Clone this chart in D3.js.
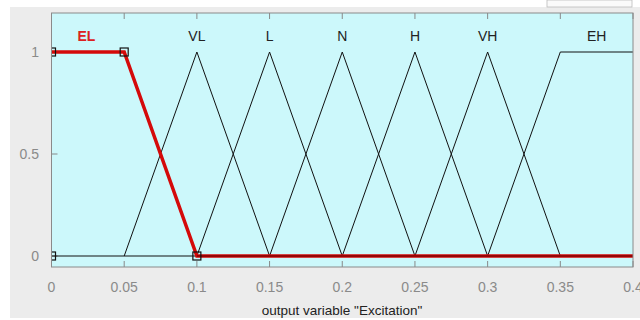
<!DOCTYPE html>
<html>
<head>
<meta charset="utf-8">
<script src="https://cdn.jsdelivr.net/npm/d3@7"></script>
<style>
 body { margin: 0; background: #fff; }
 svg { display: block; font-family: "Liberation Sans", Arial, sans-serif; }
</style>
</head>
<body>
<svg id="chart" width="640" height="320"></svg>
<script>
// membership functions of output variable "Excitation"
var mfNames = ["EL", "VL", "L", "N", "H", "VH", "EH"];
var mfPoints = {
  EL: [[0, 0], [0, 1], [0.05, 1], [0.1, 0], [0.4, 0]],
  VL: [[0.05, 0], [0.1, 1], [0.15, 0]],
  L:  [[0.1, 0], [0.15, 1], [0.2, 0]],
  N:  [[0.15, 0], [0.2, 1], [0.25, 0]],
  H:  [[0.2, 0], [0.25, 1], [0.3, 0]],
  VH: [[0.25, 0], [0.3, 1], [0.35, 0]],
  EH: [[0.3, 0], [0.35, 1], [0.4, 1]]
};
var labelX = [0.024, 0.1, 0.15, 0.2, 0.25, 0.3, 0.375];
var elHandles = [[0, 0], [0, 1], [0.05, 1], [0.1, 0]];
var xTicks = [0, 0.05, 0.1, 0.15, 0.2, 0.25, 0.3, 0.35, 0.4];
var yTicks = [0, 0.5, 1];

var svg = d3.select("#chart");

// window background
svg.append("rect").attr("x", 10).attr("y", 7).attr("width", 630).attr("height", 311)
  .attr("fill", "#ececec");
svg.append("rect").attr("x", 547).attr("y", 0).attr("width", 85).attr("height", 7)
  .attr("fill", "#fafafa").attr("stroke", "#bbb").attr("stroke-width", 0.8);

var x = d3.scaleLinear().domain([0, 0.4]).range([51.5, 633]);
var y = d3.scaleLinear().domain([0, 1]).range([256, 52]);
var boxTop = 13, boxBottom = 267;

svg.append("defs").append("clipPath").attr("id", "box")
  .append("rect").attr("x", x(0)).attr("y", boxTop)
  .attr("width", x(0.4) - x(0)).attr("height", boxBottom - boxTop);

svg.append("rect").attr("x", x(0)).attr("y", boxTop)
  .attr("width", x(0.4) - x(0)).attr("height", boxBottom - boxTop)
  .attr("fill", "#ccf8fb");

// ticks inside the box
var g = svg.append("g");
g.selectAll(".xt").data(xTicks).enter().append("line")
  .attr("x1", d => x(d)).attr("x2", d => x(d))
  .attr("y1", boxBottom).attr("y2", boxBottom - 6).attr("stroke", "#888");
g.selectAll(".xtt").data(xTicks).enter().append("line")
  .attr("x1", d => x(d)).attr("x2", d => x(d))
  .attr("y1", boxTop).attr("y2", boxTop + 6).attr("stroke", "#888");
g.selectAll(".yt").data(yTicks).enter().append("line")
  .attr("x1", x(0)).attr("x2", x(0) + 6)
  .attr("y1", d => y(d)).attr("y2", d => y(d)).attr("stroke", "#888");

var line = d3.line().x(d => x(d[0])).y(d => y(d[1]));
var plot = svg.append("g").attr("clip-path", "url(#box)");

// black membership functions
mfNames.slice(1).forEach(function(n) {
  plot.append("path").attr("d", line(mfPoints[n]))
    .attr("fill", "none").attr("stroke", "#111").attr("stroke-width", 1);
});
plot.append("path").attr("d", line([[0, 0], [0.4, 0]]))
  .attr("fill", "none").attr("stroke", "#111").attr("stroke-width", 1);

// selected MF in red
plot.append("path").attr("d", line(mfPoints.EL.slice(1)))
  .attr("fill", "none").attr("stroke", "#d40a0a").attr("stroke-width", 3.5)
  .attr("stroke-linejoin", "miter");
plot.append("path").attr("d", line([[0.1, 0], [0.4, 0]]))
  .attr("fill", "none").attr("stroke", "#5a0000").attr("stroke-width", 1);

plot.selectAll(".h").data(elHandles).enter().append("rect")
  .attr("x", d => x(d[0]) - 4).attr("y", d => y(d[1]) - 4)
  .attr("width", 8).attr("height", 8)
  .attr("fill", "none").attr("stroke", "#111").attr("stroke-width", 1.2);

// box frame
svg.append("rect").attr("x", x(0)).attr("y", boxTop)
  .attr("width", x(0.4) - x(0)).attr("height", boxBottom - boxTop)
  .attr("fill", "none").attr("stroke", "#8a8a8a").attr("stroke-width", 1);

// MF labels
svg.selectAll(".lbl").data(mfNames).enter().append("text")
  .attr("x", (d, i) => x(labelX[i])).attr("y", 41)
  .attr("text-anchor", "middle").attr("font-size", 14)
  .attr("fill", d => d == "EL" ? "#dd2020" : "#222")
  .attr("font-weight", d => d == "EL" ? "bold" : "normal")
  .text(d => d);

// tick labels
svg.selectAll(".xl").data(xTicks).enter().append("text")
  .attr("x", d => x(d)).attr("y", 292)
  .attr("text-anchor", "middle").attr("font-size", 14).attr("fill", "#8a8a8a")
  .text(d => d3.format("~g")(d));
svg.selectAll(".yl").data(yTicks).enter().append("text")
  .attr("x", 39).attr("y", d => y(d) + 5)
  .attr("text-anchor", "end").attr("font-size", 14).attr("fill", "#8a8a8a")
  .text(d => d3.format("~g")(d));

svg.append("text").attr("x", 342).attr("y", 315)
  .attr("text-anchor", "middle").attr("font-size", 13.5).attr("fill", "#222")
  .text('output variable "Excitation"');
</script>
</body>
</html>
